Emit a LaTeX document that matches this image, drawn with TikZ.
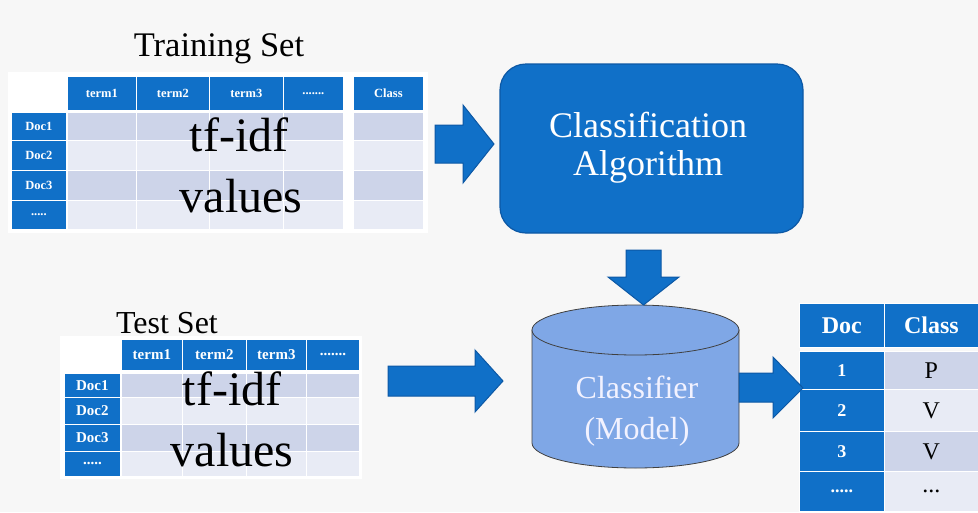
\documentclass[tikz,border=0pt]{standalone}
\usepackage{fontspec}
\setmainfont{Liberation Serif}
\definecolor{mblue}{RGB}{16,112,200}
\definecolor{mbluedark}{RGB}{12,88,165}
\definecolor{rowA}{RGB}{205,212,233}
\definecolor{rowB}{RGB}{232,235,245}
\definecolor{cylc}{RGB}{127,167,230}
\definecolor{bgc}{RGB}{247,247,247}
\newcommand{\fs}[1]{\fontsize{#1}{#1}\selectfont}
\newcommand{\cellnode}[7]{\node[#6, anchor=north west, minimum width={#4pt-#2pt}, minimum height={#5pt-#3pt}] (#1) at (#2,#3) {#7};}
\begin{document}
\begin{tikzpicture}[x=1pt,y=-1pt,
  hcell/.style={fill=mblue, draw=white, line width=0.8pt, inner sep=0pt, text=white, font=\bfseries\fs{12.5}},
  thcell/.style={hcell, font=\bfseries\fs{15}},
  rhcell/.style={hcell, font=\bfseries\fs{24}},
  rncell/.style={hcell, font=\bfseries\fs{18}},
  dA/.style={fill=rowA, draw=white, line width=0.8pt, inner sep=0pt, font=\fs{24}},
  dB/.style={fill=rowB, draw=white, line width=0.8pt, inner sep=0pt, font=\fs{24}},
  blockarrow/.style={fill=mblue, draw=mbluedark, line width=1pt, line join=miter},
  bigtext/.style={font=\fs{48}, text=black, inner sep=0pt, anchor=base},
  titletext/.style={font=\fs{34.5}, text=black, inner sep=0pt, anchor=base}]
\fill[bgc] (0,0) rectangle (978,512);
\useasboundingbox (0,0) rectangle (978,512);
\fill[white] (8,72) rectangle (428,233);
\fill[white] (60,336) rectangle (362,479);

% ---------- Training set ----------
\node[titletext] (trainTitle) at (219,56) {Training Set};
\cellnode{tr-h1}{67}{76}{136}{110}{hcell}{term1}
\cellnode{tr-h2}{136}{76}{209}{110}{hcell}{term2}
\cellnode{tr-h3}{209}{76}{283}{110}{hcell}{term3}
\cellnode{tr-h4}{283}{76}{343}{110}{hcell}{.......}
\cellnode{tr-hc}{353}{76}{423}{110}{hcell}{Class}
\cellnode{tr-d1}{11}{112}{66}{140}{hcell}{Doc1}
\cellnode{tr-d2}{11}{140}{66}{170}{hcell}{Doc2}
\cellnode{tr-d3}{11}{170}{66}{200}{hcell}{Doc3}
\cellnode{tr-d4}{11}{200}{66}{229}{hcell}{.....}
\cellnode{tr-r1a}{67}{112}{136}{140}{dA}{}
\cellnode{tr-r1b}{136}{112}{209}{140}{dA}{}
\cellnode{tr-r1c}{209}{112}{283}{140}{dA}{}
\cellnode{tr-r1d}{283}{112}{343}{140}{dA}{}
\cellnode{tr-r1e}{353}{112}{423}{140}{dA}{}
\cellnode{tr-r2a}{67}{140}{136}{170}{dB}{}
\cellnode{tr-r2b}{136}{140}{209}{170}{dB}{}
\cellnode{tr-r2c}{209}{140}{283}{170}{dB}{}
\cellnode{tr-r2d}{283}{140}{343}{170}{dB}{}
\cellnode{tr-r2e}{353}{140}{423}{170}{dB}{}
\cellnode{tr-r3a}{67}{170}{136}{200}{dA}{}
\cellnode{tr-r3b}{136}{170}{209}{200}{dA}{}
\cellnode{tr-r3c}{209}{170}{283}{200}{dA}{}
\cellnode{tr-r3d}{283}{170}{343}{200}{dA}{}
\cellnode{tr-r3e}{353}{170}{423}{200}{dA}{}
\cellnode{tr-r4a}{67}{200}{136}{229}{dB}{}
\cellnode{tr-r4b}{136}{200}{209}{229}{dB}{}
\cellnode{tr-r4c}{209}{200}{283}{229}{dB}{}
\cellnode{tr-r4d}{283}{200}{343}{229}{dB}{}
\cellnode{tr-r4e}{353}{200}{423}{229}{dB}{}
\node[bigtext] (trTf) at (239,151) {tf-idf};
\node[bigtext] (trVal) at (241,212) {values};

% ---------- Test set ----------
\node[titletext, font=\fs{32}] (testTitle) at (167,333) {Test Set};
\cellnode{te-h1}{121}{339}{182}{370}{thcell}{term1}
\cellnode{te-h2}{182}{339}{246}{370}{thcell}{term2}
\cellnode{te-h3}{246}{339}{306}{370}{thcell}{term3}
\cellnode{te-h4}{306}{339}{359}{370}{thcell}{.......}
\cellnode{te-d1}{64}{373}{120}{397}{thcell}{Doc1}
\cellnode{te-d2}{64}{397}{120}{424}{thcell}{Doc2}
\cellnode{te-d3}{64}{424}{120}{451}{thcell}{Doc3}
\cellnode{te-d4}{64}{451}{120}{476}{thcell}{.....}
\cellnode{te-r1a}{121}{373}{182}{397}{dA}{}
\cellnode{te-r1b}{182}{373}{246}{397}{dA}{}
\cellnode{te-r1c}{246}{373}{306}{397}{dA}{}
\cellnode{te-r1d}{306}{373}{359}{397}{dA}{}
\cellnode{te-r2a}{121}{397}{182}{424}{dB}{}
\cellnode{te-r2b}{182}{397}{246}{424}{dB}{}
\cellnode{te-r2c}{246}{397}{306}{424}{dB}{}
\cellnode{te-r2d}{306}{397}{359}{424}{dB}{}
\cellnode{te-r3a}{121}{424}{182}{451}{dA}{}
\cellnode{te-r3b}{182}{424}{246}{451}{dA}{}
\cellnode{te-r3c}{246}{424}{306}{451}{dA}{}
\cellnode{te-r3d}{306}{424}{359}{451}{dA}{}
\cellnode{te-r4a}{121}{451}{182}{476}{dB}{}
\cellnode{te-r4b}{182}{451}{246}{476}{dB}{}
\cellnode{te-r4c}{246}{451}{306}{476}{dB}{}
\cellnode{te-r4d}{306}{451}{359}{476}{dB}{}
\node[bigtext] (teTf) at (232,405) {tf-idf};
\node[bigtext] (teVal) at (232,466) {values};

% ---------- Classification algorithm ----------
\node[fill=mblue, draw=mbluedark, line width=1.2pt, rounded corners=26pt,
      minimum width=303pt, minimum height=169pt] (alg) at (651.5,148.5) {};
\node[font=\fs{36}, text=white, inner sep=0pt, anchor=base] (algT1) at (648,137) {Classification};
\node[font=\fs{36}, text=white, inner sep=0pt, anchor=base] (algT2) at (648,175) {Algorithm};

% ---------- Classifier cylinder ----------
\path[fill=cylc, draw=black!75, line width=0.8pt]
  (532,330) -- (532,443) arc[start angle=180, end angle=0, x radius=103.5, y radius=25] -- (739,330) -- cycle;
\draw[fill=cylc, draw=black!75, line width=0.8pt] (635.5,330) ellipse[x radius=103.5, y radius=25];
\node[font=\fs{32}, text=white!95!blue, inner sep=0pt, anchor=base] (clsT1) at (637,398) {Classifier};
\node[font=\fs{32}, text=white!95!blue, inner sep=0pt, anchor=base] (clsT2) at (637,439) {(Model)};

% ---------- Result table ----------
\cellnode{rs-h1}{799}{303}{884}{347}{rhcell}{Doc}
\cellnode{rs-h2}{884}{303}{978}{347}{rhcell}{Class}
\cellnode{rs-d1}{799}{351}{884}{389}{rncell}{1}
\cellnode{rs-d2}{799}{389}{884}{431}{rncell}{2}
\cellnode{rs-d3}{799}{431}{884}{471}{rncell}{3}
\cellnode{rs-d4}{799}{471}{884}{511}{rncell}{.....}
\cellnode{rs-c1}{884}{351}{978}{389}{dA}{P}
\cellnode{rs-c2}{884}{389}{978}{431}{dB}{V}
\cellnode{rs-c3}{884}{431}{978}{471}{dA}{V}
\cellnode{rs-c4}{884}{471}{978}{511}{dB}{...}

% ---------- Block arrows ----------
\draw[blockarrow] (435,125) -- (463,125) -- (463,105) -- (494,144) -- (463,183) -- (463,163) -- (435,163) -- cycle;
\draw[blockarrow] (626,250) -- (661,250) -- (661,277) -- (679,277) -- (643.5,305) -- (608,277) -- (626,277) -- cycle;
\draw[blockarrow] (388,366) -- (475,366) -- (475,350) -- (503,381) -- (475,412) -- (475,396) -- (388,396) -- cycle;
\draw[blockarrow] (739,373) -- (773,373) -- (773,357) -- (803,388) -- (773,418) -- (773,402) -- (739,402) -- cycle;
\end{tikzpicture}
\end{document}
